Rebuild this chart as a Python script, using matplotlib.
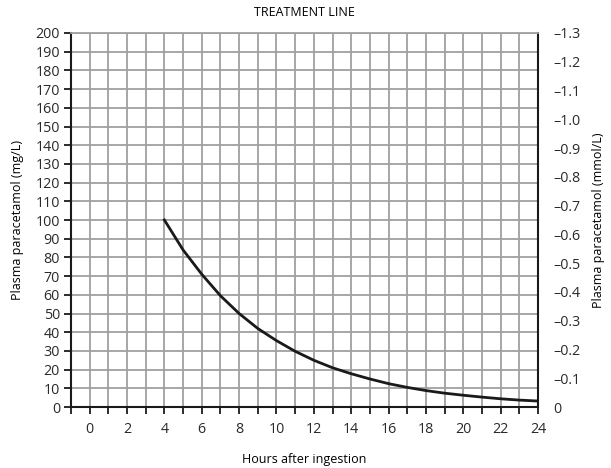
import matplotlib.pyplot as plt

# treatment line
hours = [4, 5, 6, 7, 8, 9, 10, 11, 12, 13, 14, 15, 16, 17, 18, 19, 20, 21, 22, 23, 24]
conc_mg = [100, 84, 71, 59.5, 50, 42, 35.5, 29.8, 25, 21, 17.8, 15, 12.5, 10.5, 8.8,
           7.4, 6.3, 5.3, 4.4, 3.7, 3.2]

x_ticks = list(range(-1, 25))
x_labels = [str(h) if h >= 0 and h % 2 == 0 else "" for h in x_ticks]
y_ticks = list(range(0, 201, 10))
mmol_ticks = [i / 10 for i in range(0, 14)]
mmol_labels = ["0"] + ["\u2013%.1f" % v for v in mmol_ticks[1:]]

plt.rcParams["font.family"] = ["Open Sans", "DejaVu Sans"]

fig = plt.figure(figsize=(6.11, 4.68), dpi=100)
ax = fig.add_axes([0.1162, 0.1303, 0.7643, 0.7992])

ax.plot(hours, conc_mg, color="#1a1a1a", lw=2.0, zorder=3)

ax.set_xlim(-1, 24)
ax.set_ylim(0, 200)
ax.set_xticks(x_ticks)
ax.set_xticklabels(x_labels)
ax.set_yticks(y_ticks)
ax.grid(True, color="#a0a0a0", lw=1.3)
ax.set_axisbelow(True)
ax.tick_params(axis="both", direction="out", length=5, width=1.3, color="#1a1a1a",
               labelsize=10.3, labelcolor="#2a2a2a")
ax.tick_params(axis="y", right=True, pad=3)
ax.tick_params(axis="x", pad=6)
for side in ["left", "bottom", "right"]:
    ax.spines[side].set_linewidth(1.5)
    ax.spines[side].set_color("#1a1a1a")
ax.spines["top"].set_color("#a0a0a0")
ax.spines["top"].set_linewidth(1.3)

ax.set_xlabel("Hours after ingestion", fontsize=9, labelpad=11)
ax.set_ylabel("Plasma paracetamol (mg/L)", fontsize=9, labelpad=8)
ax.set_title("TREATMENT LINE", fontsize=9, pad=12)

ax2 = ax.twinx()
ax2.set_ylim(0, 1.3)
ax2.set_yticks(mmol_ticks)
ax2.set_yticklabels(mmol_labels)
ax2.tick_params(axis="y", length=0, pad=11, labelsize=10.3, labelcolor="#2a2a2a")
for s in ax2.spines.values():
    s.set_visible(False)
ax2.set_ylabel("Plasma paracetamol (mmol/L)", fontsize=9, labelpad=8)

fig.savefig("out.png", dpi=100)
